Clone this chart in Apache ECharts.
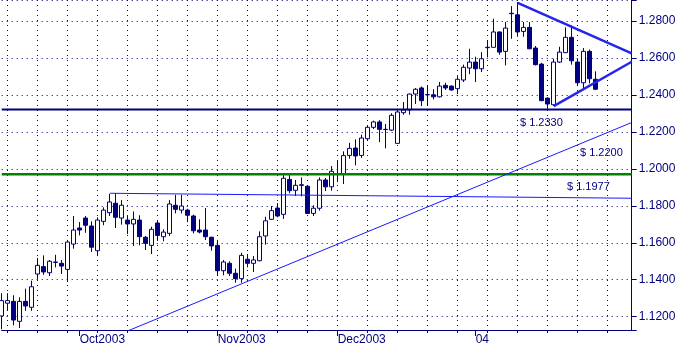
<!DOCTYPE html>
<html><head><meta charset="utf-8">
<script src="https://cdn.jsdelivr.net/npm/echarts@6/dist/echarts.min.js"></script>
<style>html,body{margin:0;padding:0;background:#fff}#c{width:680px;height:348px}</style>
</head><body><div id="c"></div>
<script>
// ---- categories ----
const startDate = '2003-09-12';
const dayCount = 106;
const monthTickDates = ['2003-10-01','2003-11-03','2003-12-01','2004-01-01'];
const monthTickLabels = ['Oct2003','Nov2003','Dec2003','04'];

// ---- candles: [open, close, low, high] ----
const ohlc = [
[1.1204,1.1287,1.1132,1.1327],[1.1273,1.1287,1.1232,1.1327],[1.1283,1.1182,1.1153,1.1316],[1.1175,1.1283,1.1139,1.1305],
[1.1283,1.1258,1.1232,1.1352],[1.1251,1.1362,1.1232,1.1395],[1.1431,1.1478,1.1402,1.1518],[1.1471,1.1442,1.1427,1.1532],
[1.1438,1.1500,1.1420,1.1507],[1.1496,1.1494,1.1467,1.1535],[1.1489,1.1474,1.1431,1.1507],[1.1456,1.1604,1.1388,1.1610],
[1.1593,1.1669,1.1568,1.1745],[1.1680,1.1669,1.1640,1.1712],[1.1734,1.1695,1.1654,1.1745],[1.1691,1.1576,1.1550,1.1716],
[1.1557,1.1723,1.1532,1.1738],[1.1716,1.1777,1.1695,1.1792],[1.1763,1.1821,1.1745,1.1864],[1.1814,1.1738,1.1680,1.1868],
[1.1734,1.1803,1.1698,1.1831],[1.1723,1.1702,1.1647,1.1749],[1.1702,1.1727,1.1583,1.1770],[1.1723,1.1633,1.1586,1.1749],
[1.1630,1.1597,1.1561,1.1637],[1.1586,1.1673,1.1539,1.1687],[1.1707,1.1640,1.1610,1.1723],[1.1633,1.1658,1.1608,1.1673],
[1.1651,1.1810,1.1637,1.1831],[1.1803,1.1781,1.1759,1.1860],[1.1777,1.1799,1.1759,1.1860],[1.1777,1.1749,1.1712,1.1784],
[1.1745,1.1665,1.1651,1.1752],[1.1669,1.1658,1.1651,1.1727],[1.1669,1.1633,1.1615,1.1788],[1.1630,1.1583,1.1557,1.1633],
[1.1586,1.1449,1.1420,1.1615],[1.1449,1.1496,1.1424,1.1507],[1.1489,1.1435,1.1420,1.1500],[1.1435,1.1406,1.1384,1.1460],
[1.1406,1.1532,1.1384,1.1546],[1.1511,1.1489,1.1467,1.1539],[1.1489,1.1507,1.1442,1.1528],[1.1503,1.1633,1.1500,1.1662],
[1.1637,1.1719,1.1590,1.1741],[1.1727,1.1774,1.1723,1.1799],[1.1788,1.1745,1.1738,1.1815],[1.1754,1.1949,1.1729,1.1972],
[1.1943,1.1882,1.1868,1.1976],[1.1884,1.1911,1.1853,1.1940],[1.1914,1.1911,1.1851,1.1954],[1.1906,1.1759,1.1756,1.1911],
[1.1759,1.1787,1.1745,1.1803],[1.1787,1.1940,1.1774,1.1954],[1.1940,1.1903,1.1880,1.1951],[1.1903,1.1987,1.1882,1.2015],
[1.1972,1.1974,1.1929,1.2044],[1.1972,1.2072,1.1918,1.2095],[1.2073,1.2111,1.2055,1.2141],[1.2113,1.2070,1.2019,1.2160],
[1.2073,1.2167,1.2059,1.2185],[1.2163,1.2225,1.2156,1.2236],[1.2225,1.2254,1.2216,1.2261],[1.2254,1.2214,1.2145,1.2264],
[1.2214,1.2213,1.2111,1.2243],[1.2210,1.2290,1.2205,1.2301],[1.2138,1.2308,1.2137,1.2322],[1.2304,1.2319,1.2293,1.2362],
[1.2319,1.2405,1.2293,1.2408],[1.2405,1.2431,1.2351,1.2438],[1.2438,1.2369,1.2340,1.2446],[1.2401,1.2402,1.2340,1.2452],
[1.2401,1.2390,1.2376,1.2431],[1.2390,1.2448,1.2386,1.2470],[1.2452,1.2438,1.2427,1.2466],[1.2448,1.2427,1.2423,1.2452],
[1.2434,1.2485,1.2405,1.2502],[1.2481,1.2550,1.2470,1.2564],[1.2546,1.2578,1.2513,1.2650],[1.2578,1.2542,1.2470,1.2607],
[1.2542,1.2596,1.2524,1.2632],[1.2658,1.2656,1.2603,1.2697],[1.2658,1.2741,1.2657,1.2813],[1.2741,1.2632,1.2618,1.2744],
[1.2636,1.2762,1.2560,1.2795],[1.2842,1.2840,1.2704,1.2881],[1.2834,1.2741,1.2715,1.2903],[1.2744,1.2766,1.2715,1.2795],
[1.2766,1.2650,1.2648,1.2795],[1.2654,1.2564,1.2560,1.2665],[1.2567,1.2369,1.2367,1.2574],[1.2383,1.2351,1.2325,1.2387],
[1.2347,1.2578,1.2340,1.2596],[1.2578,1.2632,1.2573,1.2661],[1.2629,1.2712,1.2627,1.2766],[1.2712,1.2585,1.2564,1.2777],
[1.2578,1.2466,1.2448,1.2596],[1.2466,1.2636,1.2434,1.2654],[1.2636,1.2488,1.2463,1.2646],[1.2485,1.2431,1.2427,1.2528]
];

// ---- levels & trend lines ----
const supportLevel = 1.2322;      // navy "$ 1.2330"
const breakoutLevel = 1.1971;     // green "$ 1.1977"
const resistanceLine = [['2003-10-08',1.1868],['2004-02-06',1.1841]];
const risingTrend = [['2003-10-13',1.1123],['2004-02-06',1.2251]];
const triangleUpper = [['2004-01-12',1.2899],['2004-02-06',1.2625]];
const triangleLower = [['2004-01-20',1.2340],['2004-02-06',1.2580]];
const annotationTexts = ['$ 1.2330','$ 1.2200','$ 1.1977'];

// ---- build ----
function weekdays(start, n){
  const out=[]; const d=new Date(start+'T00:00:00Z');
  while(out.length<n){ const w=d.getUTCDay(); if(w!==0&&w!==6) out.push(d.toISOString().slice(0,10)); d.setUTCDate(d.getUTCDate()+1); }
  return out;
}
const dates = weekdays(startDate, dayCount);
const isMonday = (i,v)=> new Date(v+'T00:00:00Z').getUTCDay()===1;
const isMonthTick = (i,v)=> monthTickDates.indexOf(v)>=0;
const NAVY='#000080';
const FONT='"Liberation Sans", Arial, sans-serif';

const chart = echarts.init(document.getElementById('c'), null, {renderer:'canvas'});
chart.setOption({
  animation:false,
  backgroundColor:'#fff',
  grid:{left:1.7, right:48.3, top:0, bottom:18, containLabel:false},
  xAxis:[{
    type:'category', data:dates, boundaryGap:false, position:'bottom',
    axisLine:{show:true, lineStyle:{color:NAVY, width:1}},
    axisTick:{show:true, length:3, interval:isMonday, lineStyle:{color:NAVY}},
    axisLabel:{show:false},
    splitLine:{show:true, interval:isMonday, lineStyle:{color:NAVY, width:1, type:[1,4]}}
  },{
    type:'category', data:dates, boundaryGap:false, position:'bottom', gridIndex:0,
    axisLine:{show:false},
    axisTick:{show:true, length:6, interval:isMonthTick, lineStyle:{color:NAVY}},
    axisLabel:{show:true, interval:isMonthTick, align:'left', margin:4, color:NAVY, fontSize:12, fontFamily:FONT,
      formatter:(v)=>{const k=monthTickDates.indexOf(v); return k>=0?monthTickLabels[k]:'';}},
    splitLine:{show:false}
  }],
  yAxis:{
    type:'value', position:'right', min:1.1128, max:1.2914, splitNumber:9, scale:true,
    axisLine:{show:true, lineStyle:{color:NAVY, width:1}},
    axisTick:{show:true, length:5, lineStyle:{color:NAVY}},
    axisLabel:{color:NAVY, fontSize:12, fontFamily:FONT, margin:7,
      formatter:(v)=> Math.abs(v*50-Math.round(v*50))<1e-6 ? v.toFixed(4) : ''},
    splitLine:{show:true, lineStyle:{color:NAVY, width:1, type:[1,4]}}
  },
  series:[
    {type:'candlestick', data:ohlc, barWidth:4, clip:false, silent:true, z:3,
      itemStyle:{color:'#ffffff', color0:NAVY, borderColor:NAVY, borderColor0:NAVY, borderWidth:1}},
    {type:'line', data:[[dates[0],supportLevel],[dates[dates.length-1],supportLevel]], symbol:'none', silent:true, z:4,
      lineStyle:{color:NAVY, width:2}},
    {type:'line', data:[[dates[0],breakoutLevel],[dates[dates.length-1],breakoutLevel]], symbol:'none', silent:true, z:4,
      lineStyle:{color:'#008000', width:2.5}},
    {type:'line', data:resistanceLine, symbol:'none', silent:true, z:4, lineStyle:{color:'#1a1aff', width:1}},
    {type:'line', data:risingTrend, symbol:'none', silent:true, z:4, lineStyle:{color:'#1a1aff', width:1}},
    {type:'line', data:triangleUpper, symbol:'none', silent:true, z:4, lineStyle:{color:'#2424ee', width:2.5}},
    {type:'line', data:triangleLower, symbol:'none', silent:true, z:4, lineStyle:{color:'#2424ee', width:2.5}}
  ],
  graphic:[
    {type:'text', left:520, top:117, z:10, style:{text:annotationTexts[0], fill:NAVY, font:'11px '+FONT}},
    {type:'text', left:580, top:147, z:10, style:{text:annotationTexts[1], fill:NAVY, font:'11px '+FONT}},
    {type:'text', left:567, top:181, z:10, style:{text:annotationTexts[2], fill:NAVY, font:'11px '+FONT}}
  ]
});
</script></body></html>
